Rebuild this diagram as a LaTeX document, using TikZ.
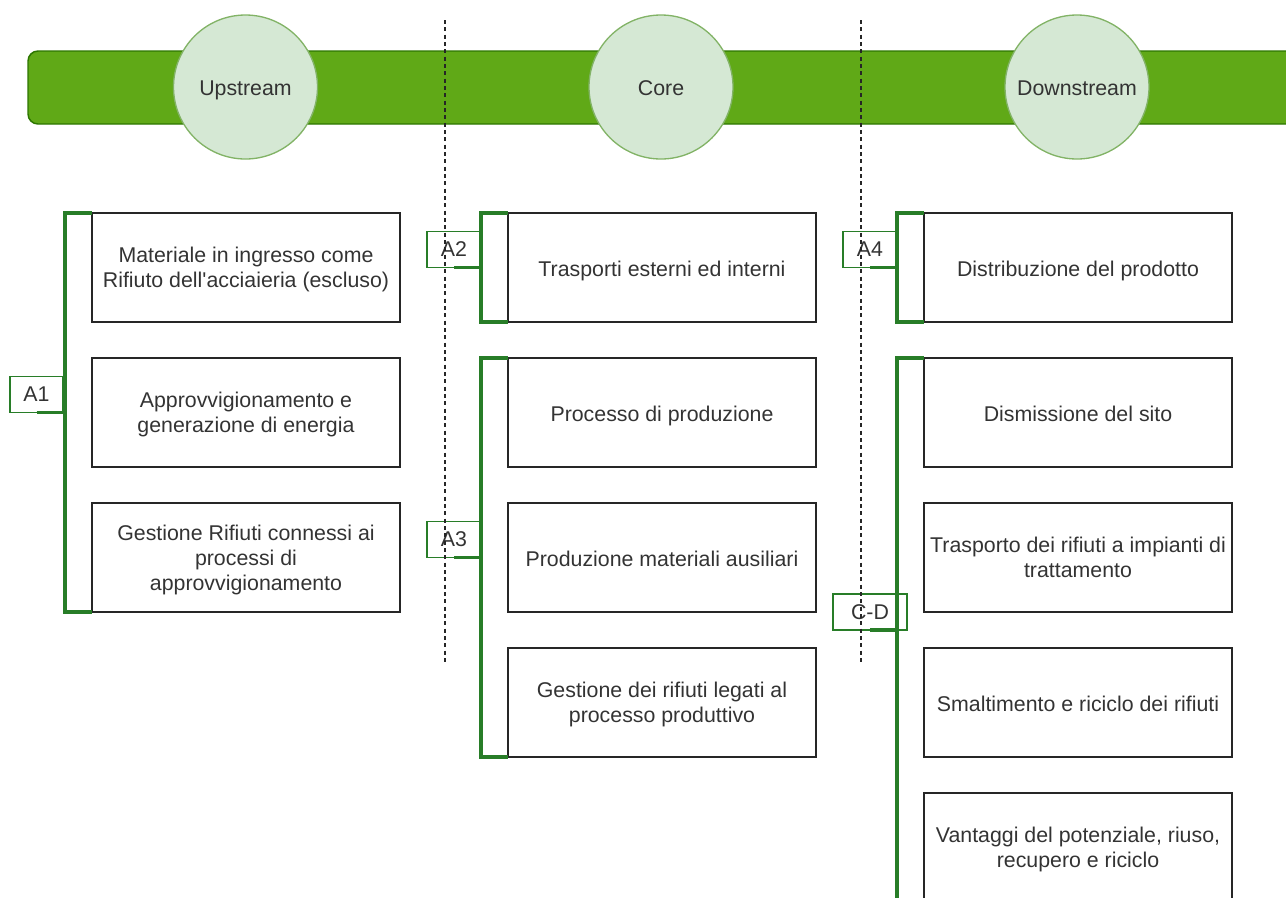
\documentclass[tikz,border=0pt]{standalone}
\usepackage{fontspec}
\setmainfont{Liberation Sans}
\usetikzlibrary{calc}
\definecolor{barfill}{HTML}{60A917}
\definecolor{barline}{HTML}{2D7600}
\definecolor{circfill}{HTML}{D5E8D4}
\definecolor{circline}{HTML}{82B366}
\definecolor{brk}{RGB}{40,125,40}
\definecolor{txt}{HTML}{333333}
\begin{document}
\begin{tikzpicture}[x=0.75pt,y=-0.75pt,
  every node/.style={font=\fontsize{16}{18.75}\selectfont, text=txt},
  strutted/.style={execute at begin node=\strut, execute at end node=\strut},
  stepbox/.style={draw=black!85, line width=1.1pt, minimum width=231pt, minimum height=81.75pt,
    inner sep=0pt, outer sep=0pt, anchor=north west,
    label={[align=center, yshift=-2.75pt, inner sep=0pt, strutted]center:#1}},
  phase/.style={circle, fill=circfill, draw=circline, line width=1pt, minimum size=108pt, inner sep=0pt,
    label={[yshift=-2.25pt, inner sep=0pt, strutted]center:#1}},
  brkline/.style={draw=brk, line width=2.3pt},
  tagbox/.style={draw=brk, line width=1.1pt, minimum height=27pt, inner sep=0pt, outer sep=0pt},
  sepline/.style={draw=black!85, line width=0.9pt, dash pattern=on 3pt off 2.5pt}
]
\useasboundingbox (0,0) rectangle (1286,897);

% green bar
\path[fill=barfill, draw=barline, line width=1.1pt, rounded corners=7.5pt] (28,51) rectangle (1320,124);

% phases
\node[phase={Upstream}] (up) at (245.5,87) {};
\node[phase={Core}] (core) at (661,87) {};
\node[phase={Downstream}] (down) at (1077,87) {};

% column 1
\node[stepbox={Materiale in ingresso come\\Rifiuto dell\textquotesingle acciaieria (escluso)}] (b11) at (92,213) {};
\node[stepbox={Approvvigionamento e\\generazione di energia}] (b12) at (92,358) {};
\node[stepbox={Gestione Rifiuti connessi ai\\processi di\\approvvigionamento}] (b13) at (92,503) {};

% column 2
\node[stepbox={Trasporti esterni ed interni}] (b21) at (508,213) {};
\node[stepbox={Processo di produzione}] (b22) at (508,358) {};
\node[stepbox={Produzione materiali ausiliari}] (b23) at (508,503) {};
\node[stepbox={Gestione dei rifiuti legati al\\processo produttivo}] (b24) at (508,648) {};

% column 3
\node[stepbox={Distribuzione del prodotto}] (b31) at (924,213) {};
\node[stepbox={Dismissione del sito}] (b32) at (924,358) {};
\node[stepbox={Trasporto dei rifiuti a impianti di\\trattamento}] (b33) at (924,503) {};
\node[stepbox={Smaltimento e riciclo dei rifiuti}] (b34) at (924,648) {};
\node[stepbox={Vantaggi del potenziale, riuso,\\recupero e riciclo}] (b35) at (924,793) {};

% brackets
\draw[brkline] (b11.north west) -- ++(-27,0) coordinate (k1) |- (b13.south west);
\draw[brkline] (b21.north west) -- ++(-27,0) coordinate (k2) |- (b21.south west);
\draw[brkline] (b22.north west) -- ++(-27,0) coordinate (k3) |- (b24.south west);
\draw[brkline] (b31.north west) -- ++(-27,0) coordinate (k4) |- (b31.south west);
\draw[brkline] (b32.north west) -- ++(-27,0) coordinate (k5) |- (b35.south west);

% tags
\node[tagbox, minimum width=39.75pt, anchor=south east] (t1) at (63,412.5) {A1};
\node[tagbox, minimum width=40.5pt, anchor=south east] (t2) at (481,267.5) {A2};
\node[tagbox, minimum width=40.5pt, anchor=south east] (t3) at (481,557.5) {A3};
\node[tagbox, minimum width=40.5pt, anchor=south east] (t4) at (897,267.5) {A4};
\node[tagbox, minimum width=55.5pt, anchor=south west] (t5) at (833,630) {C-D};

\draw[brkline] (t1.south) -- (t1.south -| k1);
\draw[brkline] (t2.south) -- (t2.south -| k2);
\draw[brkline] (t3.south) -- (t3.south -| k3);
\draw[brkline] (t4.south) -- (t4.south -| k4);
\draw[brkline] (t5.south) -- (t5.south -| k5);

% separators
\coordinate (s1a) at (445,20);
\coordinate (s1b) at (445,665);
\coordinate (s2a) at (861,20);
\coordinate (s2b) at (861,665);
\draw[sepline] (s1a) -- (s1b);
\draw[sepline] (s2a) -- (s2b);
\end{tikzpicture}
\end{document}
